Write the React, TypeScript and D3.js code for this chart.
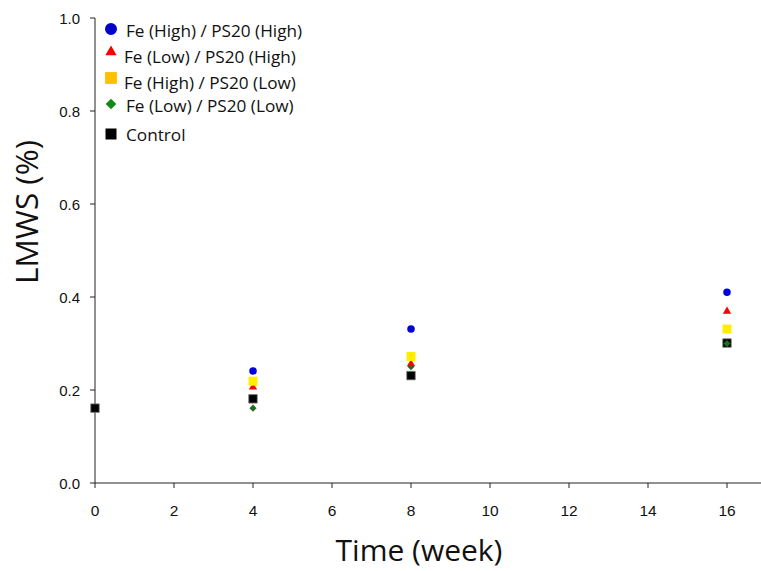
import React from "react";
import * as d3 from "d3";

const controlWeeks = [0, 4, 8, 16];
const controlValues = [0.161, 0.181, 0.231, 0.301];
const treatWeeks = [4, 8, 16];
const feHighPsHigh = [0.241, 0.331, 0.41];
const feLowPsHigh = [0.206, 0.256, 0.369];
const feHighPsLow = [0.219, 0.272, 0.331];
const feLowPsLow = [0.161, 0.25, 0.3];
const xTicks = [0, 2, 4, 6, 8, 10, 12, 14, 16];
const yTicks = [0, 0.2, 0.4, 0.6, 0.8, 1.0];
const legendLabels = [
  "Fe (High) / PS20 (High)",
  "Fe (Low) / PS20 (High)",
  "Fe (High) / PS20 (Low)",
  "Fe (Low) / PS20 (Low)",
  "Control",
];

const W = 761;
const H = 571;

export default function App() {
  const x = d3.scaleLinear().domain([0, 16]).range([95, 727]);
  const y = d3.scaleLinear().domain([0, 1]).range([483, 18]);

  const sym = (type: any, size: number) => d3.symbol().type(type).size(size)() as string;

  const series = [
    { name: "green", weeks: treatWeeks, values: feLowPsLow, path: sym(d3.symbolDiamond2, 32), fill: "#1e6e1e" },
    { name: "red", weeks: treatWeeks, values: feLowPsHigh, path: sym(d3.symbolTriangle, 30), fill: "#ff0000" },
    { name: "yellow", weeks: treatWeeks, values: feHighPsLow, path: sym(d3.symbolSquare, 81), fill: "#ffee00" },
    { name: "blue", weeks: treatWeeks, values: feHighPsHigh, path: sym(d3.symbolCircle, 44), fill: "#0000dd" },
  ];
  const controlPath = sym(d3.symbolSquare, 72);

  const legend = [
    { path: sym(d3.symbolCircle, 113), fill: "#0000cc", cy: 29, ty: 36.5, tx: 126 },
    { path: sym(d3.symbolTriangle, 55), fill: "#ff0000", cy: 52, ty: 63, tx: 124 },
    { path: sym(d3.symbolSquare, 140), fill: "#ffc000", cy: 78, ty: 89, tx: 124 },
    { path: sym(d3.symbolDiamond2, 72), fill: "#138a13", cy: 104, ty: 111.5, tx: 126 },
    { path: sym(d3.symbolSquare, 121), fill: "#000000", cy: 134, ty: 140.5, tx: 126 },
  ];

  const axisColor = "#222";
  const tickFont = "'Liberation Sans', Arial, sans-serif";
  const labelFont = "'Open Sans', sans-serif";

  return (
    <svg
      width={W}
      height={H}
      style={{ position: "absolute", left: 0, top: 0, background: "#fff" }}
    >
      <line x1={95} x2={95} y1={y(1)} y2={y(0)} stroke={axisColor} strokeWidth={1} />
      <line x1={95} x2={761} y1={y(0)} y2={y(0)} stroke={axisColor} strokeWidth={1} />
      {yTicks.map((t) => (
        <g key={"y" + t}>
          <line x1={90} x2={95} y1={y(t)} y2={y(t)} stroke={axisColor} />
          <text
            x={80}
            y={y(t)}
            textAnchor="end"
            dominantBaseline="central"
            fontFamily={tickFont}
            fontSize={15}
            fill="#111"
          >
            {t.toFixed(1)}
          </text>
        </g>
      ))}
      {xTicks.map((t) => (
        <g key={"x" + t}>
          <line x1={x(t)} x2={x(t)} y1={y(0)} y2={y(0) + 5} stroke={axisColor} />
          <text
            x={x(t)}
            y={515.5}
            textAnchor="middle"
            fontFamily={tickFont}
            fontSize={15.5}
            fill="#111"
          >
            {t}
          </text>
        </g>
      ))}
      <text
        x={419}
        y={561}
        textAnchor="middle"
        fontFamily={labelFont}
        fontSize={30}
        fill="#111"
      >
        Time (week)
      </text>
      <text
        transform={`translate(38, 212) rotate(-90)`}
        textAnchor="middle"
        fontFamily={labelFont}
        fontSize={31.5}
        fill="#111"
      >
        LMWS (%)
      </text>

      {controlWeeks.map((w, i) => (
        <path
          key={"c" + i}
          d={controlPath}
          transform={`translate(${x(w)},${y(controlValues[i])})`}
          fill="#000"
          stroke="#777"
          strokeWidth={0.8}
        />
      ))}
      {series.map((s) =>
        s.weeks.map((w, i) => (
          <path
            key={s.name + i}
            d={s.path}
            transform={`translate(${x(w)},${y(s.values[i])})`}
            fill={s.fill}
          />
        ))
      )}

      {legend.map((l, i) => (
        <g key={"l" + i}>
          <path d={l.path} transform={`translate(111,${l.cy})`} fill={l.fill} />
          <text x={l.tx} y={l.ty} fontFamily={labelFont} fontSize={17.2} fill="#111">
            {legendLabels[i]}
          </text>
        </g>
      ))}
    </svg>
  );
}
